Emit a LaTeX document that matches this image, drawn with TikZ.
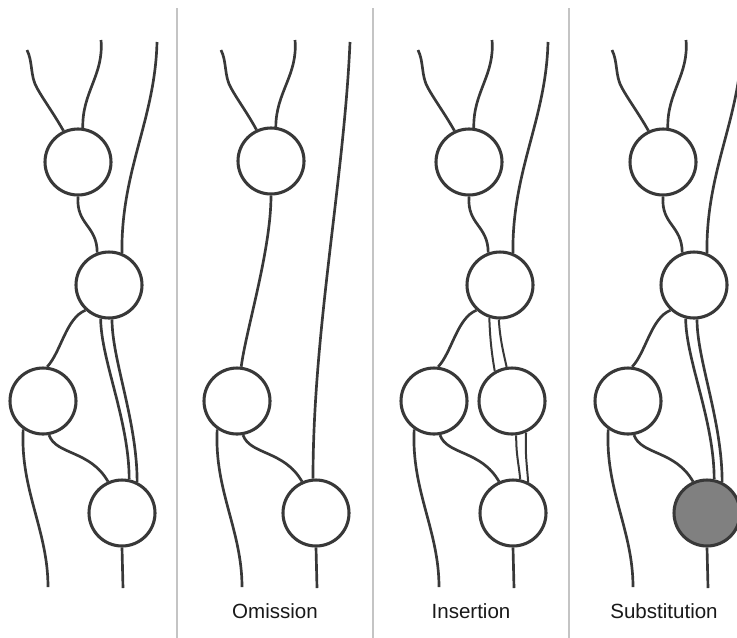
\documentclass[tikz,border=0pt]{standalone}
\usepackage{fontspec}
\setmainfont{Liberation Sans}
\definecolor{ink}{HTML}{383838}
\definecolor{rulegray}{HTML}{C4C4C4}
\definecolor{substfill}{HTML}{808080}
\tikzset{
  cell/.style={circle, draw=ink, line width=2.3pt, fill=white, minimum size=49.5pt, inner sep=0pt},
  subcell/.style={cell, fill=substfill},
  strand/.style={draw=ink, line width=2pt},
  thinstrand/.style={draw=ink, line width=1.5pt},
  divider/.style={draw=rulegray, line width=1.1pt},
  caption/.style={font=\fontsize{15.4pt}{18pt}\selectfont, text=black!90, inner sep=0pt}
}
% top strands entering A
\newcommand\paneltop[1]{%
  \coordinate (#1t1) at (27,50);
  \coordinate (#1t2) at (101,40);
  \draw[strand] (#1t1) .. controls (33,62) and (30,76) .. (37,88) .. controls (43,99) and (54,114) .. (#1A.115);
  \draw[strand] (#1t2) .. controls (104,75) and (82,92) .. (#1A.82);
}
% A->B, third strand -> B, B->C
\newcommand\panelmid[1]{%
  \coordinate (#1t3) at (157,42);
  \draw[strand] (#1A.270) .. controls (76,225) and (97,225) .. (#1B.110);
  \draw[strand] (#1t3) .. controls (155,120) and (121,170) .. (#1B.68);
  \draw[strand] (#1B.227) .. controls (66,318) and (61,352) .. (#1C.83);
}
% C->D, C down, D down
\newcommand\panelbottom[1]{%
  \coordinate (#1b1) at (48,587);
  \coordinate (#1b2) at (123,588);
  \draw[strand] (#1C.280) .. controls (56,455) and (90,450) .. (#1D.114);
  \draw[strand] (#1C.235) .. controls (20,490) and (48,530) .. (#1b1);
  \draw[strand] (#1D.270) -- (#1b2);
}
% double strand B->D
\newcommand\panelpair[1]{%
  \draw[strand] (#1B.256) .. controls (101,360) and (129,420) .. (#1D.78);
  \draw[strand] (#1B.275) .. controls (112,360) and (137,420) .. (#1D.64);
}
\begin{document}
\begin{tikzpicture}[x=0.75pt,y=-0.75pt]
\useasboundingbox (0,0) rectangle (737,637);
\clip (0,0) rectangle (737,637);
\fill[white] (0,0) rectangle (737,637);

% dividers
\draw[divider] (177,8) -- (177,640);
\draw[divider] (373,8) -- (373,640);
\draw[divider] (569,8) -- (569,640);

% panel 1: original
\begin{scope}
  \node[cell] (pA) at (78,162) {};
  \node[cell] (pB) at (109,285) {};
  \node[cell] (pC) at (43,401) {};
  \node[cell] (pD) at (122,513) {};
  \paneltop{p}
  \panelmid{p}
  \panelbottom{p}
  \panelpair{p}
\end{scope}

% panel 2: omission
\begin{scope}[shift={(194,0)}]
  \node[cell] (qA) at (77,161) {};
  \node[cell] (qC) at (43,401) {};
  \node[cell] (qD) at (122,513) {};
  \paneltop{q}
  \coordinate (qt3) at (156,42);
  \draw[strand] (qA.270) .. controls (77,250) and (52,330) .. (qC.83);
  \draw[strand] (qt3) .. controls (150,180) and (119,330) .. (qD.95);
  \panelbottom{q}
\end{scope}

% panel 3: insertion
\begin{scope}[shift={(391,0)}]
  \node[cell] (rA) at (78,162) {};
  \node[cell] (rB) at (109,285) {};
  \node[cell] (rC) at (43,401) {};
  \node[cell] (rE) at (121,401) {};
  \node[cell] (rD) at (122,513) {};
  \paneltop{r}
  \panelmid{r}
  \panelbottom{r}
  \draw[thinstrand] (rB.252) .. controls (99,340) and (101,355) .. (rE.120);
  \draw[thinstrand] (rB.268) .. controls (109,340) and (113,355) .. (rE.99);
  \draw[thinstrand] (rE.277) .. controls (125,455) and (128,465) .. (rD.78);
  \draw[thinstrand] (rE.294) .. controls (134,455) and (136,465) .. (rD.64);
\end{scope}

% panel 4: substitution
\begin{scope}[shift={(585,0)}]
  \node[cell] (sA) at (78,162) {};
  \node[cell] (sB) at (109,285) {};
  \node[cell] (sC) at (43,401) {};
  \node[subcell] (sD) at (122,513) {};
  \paneltop{s}
  \panelmid{s}
  \panelbottom{s}
  \panelpair{s}
\end{scope}

% captions
\node[caption] (capO) at (275,611) {Omission};
\node[caption] (capI) at (471,611) {Insertion};
\node[caption] (capS) at (664,611) {Substitution};
\end{tikzpicture}
\end{document}
